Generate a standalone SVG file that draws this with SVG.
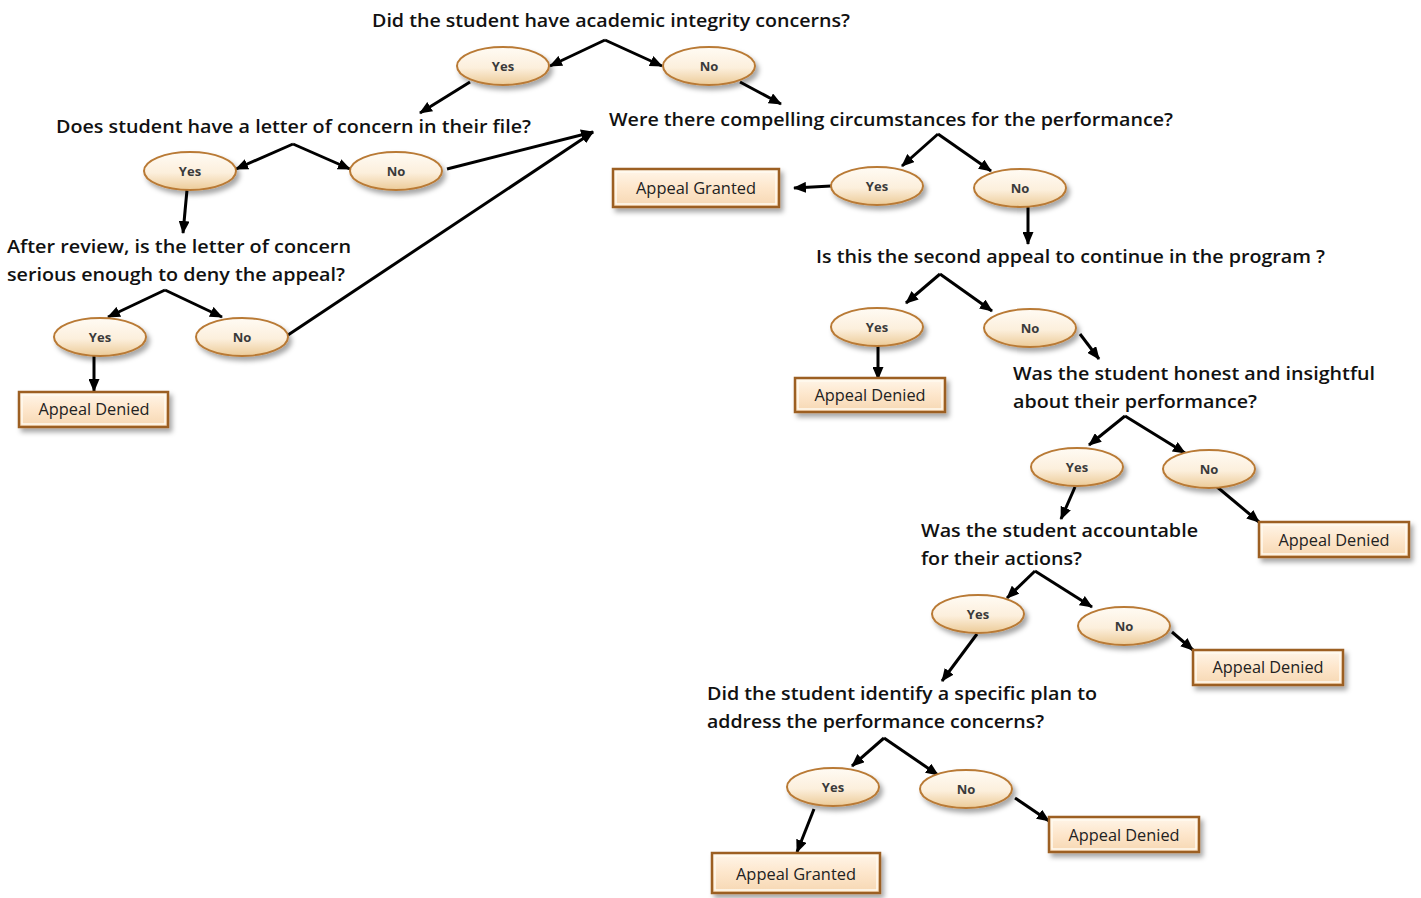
<svg xmlns="http://www.w3.org/2000/svg" width="1421" height="898" viewBox="0 0 1421 898">
<defs>
<linearGradient id="eg" x1="0" y1="0" x2="0" y2="1">
<stop offset="0" stop-color="#fffbf4"/><stop offset="0.55" stop-color="#fcefdc"/><stop offset="1" stop-color="#eccb98"/>
</linearGradient>
<linearGradient id="bg" x1="0" y1="0" x2="0" y2="1">
<stop offset="0" stop-color="#fff6ea"/><stop offset="0.5" stop-color="#fde6cb"/><stop offset="1" stop-color="#f6d7b2"/>
</linearGradient>
<filter id="sh" x="-20%" y="-30%" width="140%" height="170%">
<feDropShadow dx="3" dy="4" stdDeviation="2.5" flood-color="#000" flood-opacity="0.35"/>
</filter>
<marker id="ar" viewBox="0 0 13 11" refX="12" refY="5.5" markerWidth="13" markerHeight="11" markerUnits="userSpaceOnUse" orient="auto">
<path d="M0,0 L13,5.5 L0,11 z" fill="#000"/>
</marker>
</defs>
<style>
.q{font-family:"Open Sans","Liberation Sans",sans-serif;font-size:18px;font-weight:600;fill:#111}
.e ellipse{fill:url(#eg);stroke:#b97a35;stroke-width:2;filter:url(#sh)}
.e text{font-family:"Open Sans","Liberation Sans",sans-serif;font-size:13px;font-weight:700;fill:#3a3a3a;text-anchor:middle}
.b rect.o{fill:url(#bg);stroke:#9c5f22;stroke-width:2.5;filter:url(#sh)}
.b rect.i{fill:none;stroke:#fffaf0;stroke-width:1.5}
.b text{font-family:"Open Sans","Liberation Sans",sans-serif;font-size:16px;fill:#222;text-anchor:middle}
.c path{fill:none;stroke:#000;stroke-width:3}
</style>
<rect width="1421" height="898" fill="#fff"/>

<g id="connectors" class="c">
<path d="M605,40 L550,66" marker-end="url(#ar)"/>
<path d="M605,40 L662,66" marker-end="url(#ar)"/>
<path d="M470,82 L420,113" marker-end="url(#ar)"/>
<path d="M740,82 L781,104" marker-end="url(#ar)"/>
<path d="M293,144 L236,169" marker-end="url(#ar)"/>
<path d="M293,144 L350,169" marker-end="url(#ar)"/>
<path d="M447,169 L593,132" marker-end="url(#ar)"/>
<path d="M187,190 L183,233" marker-end="url(#ar)"/>
<path d="M165,290 L108,317" marker-end="url(#ar)"/>
<path d="M165,290 L222,317" marker-end="url(#ar)"/>
<path d="M288,335 L593,132" marker-end="url(#ar)"/>
<path d="M94,356 L94,391" marker-end="url(#ar)"/>
<path d="M938,134 L902,166" marker-end="url(#ar)"/>
<path d="M938,134 L991,171" marker-end="url(#ar)"/>
<path d="M831,186 L794,188" marker-end="url(#ar)"/>
<path d="M1028,207 L1028,244" marker-end="url(#ar)"/>
<path d="M940,274 L906,303" marker-end="url(#ar)"/>
<path d="M940,274 L992,311" marker-end="url(#ar)"/>
<path d="M878,346 L878,379" marker-end="url(#ar)"/>
<path d="M1080,334 L1099,359" marker-end="url(#ar)"/>
<path d="M1125,416 L1089,445" marker-end="url(#ar)"/>
<path d="M1125,416 L1185,453" marker-end="url(#ar)"/>
<path d="M1075,487 L1061,519" marker-end="url(#ar)"/>
<path d="M1216,486 L1259,522" marker-end="url(#ar)"/>
<path d="M1035,571 L1007,598" marker-end="url(#ar)"/>
<path d="M1035,571 L1092,607" marker-end="url(#ar)"/>
<path d="M977,634 L942,681" marker-end="url(#ar)"/>
<path d="M1172,632 L1193,650" marker-end="url(#ar)"/>
<path d="M884,738 L852,766" marker-end="url(#ar)"/>
<path d="M884,738 L938,775" marker-end="url(#ar)"/>
<path d="M814,809 L797,852" marker-end="url(#ar)"/>
<path d="M1015,798 L1049,821" marker-end="url(#ar)"/>
</g>

<g id="q1"><text class="q" x="372" y="27" textLength="478" lengthAdjust="spacingAndGlyphs">Did the student have academic integrity concerns?</text></g>
<g id="q2"><text class="q" x="56" y="133" textLength="475" lengthAdjust="spacingAndGlyphs">Does student have a letter of concern in their file?</text></g>
<g id="q3"><text class="q" x="609" y="126" textLength="564" lengthAdjust="spacingAndGlyphs">Were there compelling circumstances for the performance?</text></g>
<g id="q4"><text class="q" x="7" y="253" textLength="344" lengthAdjust="spacingAndGlyphs">After review, is the letter of concern</text><text class="q" x="7" y="281" textLength="338" lengthAdjust="spacingAndGlyphs">serious enough to deny the appeal?</text></g>
<g id="q5"><text class="q" x="816" y="263" textLength="509" lengthAdjust="spacingAndGlyphs">Is this the second appeal to continue in the program ?</text></g>
<g id="q6"><text class="q" x="1013" y="380" textLength="362" lengthAdjust="spacingAndGlyphs">Was the student honest and insightful</text><text class="q" x="1013" y="408" textLength="244" lengthAdjust="spacingAndGlyphs">about their performance?</text></g>
<g id="q7"><text class="q" x="921" y="537" textLength="277" lengthAdjust="spacingAndGlyphs">Was the student accountable</text><text class="q" x="921" y="565" textLength="161" lengthAdjust="spacingAndGlyphs">for their actions?</text></g>
<g id="q8"><text class="q" x="707" y="700" textLength="390" lengthAdjust="spacingAndGlyphs">Did the student identify a specific plan to</text><text class="q" x="707" y="728" textLength="337" lengthAdjust="spacingAndGlyphs">address the performance concerns?</text></g>

<g id="yes1" class="e"><ellipse cx="503" cy="66" rx="46" ry="19"/><text x="503" y="71">Yes</text></g>
<g id="no1" class="e"><ellipse cx="709" cy="66" rx="46" ry="19"/><text x="709" y="71">No</text></g>
<g id="yes2" class="e"><ellipse cx="190" cy="171" rx="46" ry="19"/><text x="190" y="176">Yes</text></g>
<g id="no2" class="e"><ellipse cx="396" cy="171" rx="46" ry="19"/><text x="396" y="176">No</text></g>
<g id="yes3" class="e"><ellipse cx="100" cy="337" rx="46" ry="19"/><text x="100" y="342">Yes</text></g>
<g id="no3" class="e"><ellipse cx="242" cy="337" rx="46" ry="19"/><text x="242" y="342">No</text></g>
<g id="yes4" class="e"><ellipse cx="877" cy="186" rx="46" ry="19"/><text x="877" y="191">Yes</text></g>
<g id="no4" class="e"><ellipse cx="1020" cy="188" rx="46" ry="19"/><text x="1020" y="193">No</text></g>
<g id="yes5" class="e"><ellipse cx="877" cy="327" rx="46" ry="19"/><text x="877" y="332">Yes</text></g>
<g id="no5" class="e"><ellipse cx="1030" cy="328" rx="46" ry="19"/><text x="1030" y="333">No</text></g>
<g id="yes6" class="e"><ellipse cx="1077" cy="467" rx="46" ry="19"/><text x="1077" y="472">Yes</text></g>
<g id="no6" class="e"><ellipse cx="1209" cy="469" rx="46" ry="19"/><text x="1209" y="474">No</text></g>
<g id="yes7" class="e"><ellipse cx="978" cy="614" rx="46" ry="19"/><text x="978" y="619">Yes</text></g>
<g id="no7" class="e"><ellipse cx="1124" cy="626" rx="46" ry="19"/><text x="1124" y="631">No</text></g>
<g id="yes8" class="e"><ellipse cx="833" cy="787" rx="46" ry="19"/><text x="833" y="792">Yes</text></g>
<g id="no8" class="e"><ellipse cx="966" cy="789" rx="46" ry="19"/><text x="966" y="794">No</text></g>

<g id="granted1" class="b"><rect class="o" x="613" y="169" width="166" height="38"/><rect class="i" x="616" y="172" width="160" height="32"/><text x="696" y="194" textLength="120" lengthAdjust="spacingAndGlyphs">Appeal Granted</text></g>
<g id="denied1" class="b"><rect class="o" x="19" y="392" width="149" height="35"/><rect class="i" x="22" y="395" width="143" height="29"/><text x="94" y="415" textLength="111" lengthAdjust="spacingAndGlyphs">Appeal Denied</text></g>
<g id="denied2" class="b"><rect class="o" x="795" y="378" width="150" height="34"/><rect class="i" x="798" y="381" width="144" height="28"/><text x="870" y="401" textLength="111" lengthAdjust="spacingAndGlyphs">Appeal Denied</text></g>
<g id="denied3" class="b"><rect class="o" x="1259" y="522" width="150" height="35"/><rect class="i" x="1262" y="525" width="144" height="29"/><text x="1334" y="546" textLength="111" lengthAdjust="spacingAndGlyphs">Appeal Denied</text></g>
<g id="denied4" class="b"><rect class="o" x="1193" y="650" width="150" height="35"/><rect class="i" x="1196" y="653" width="144" height="29"/><text x="1268" y="673" textLength="111" lengthAdjust="spacingAndGlyphs">Appeal Denied</text></g>
<g id="denied5" class="b"><rect class="o" x="1049" y="817" width="150" height="35"/><rect class="i" x="1052" y="820" width="144" height="29"/><text x="1124" y="841" textLength="111" lengthAdjust="spacingAndGlyphs">Appeal Denied</text></g>
<g id="granted2" class="b"><rect class="o" x="712" y="853" width="168" height="40"/><rect class="i" x="715" y="856" width="162" height="34"/><text x="796" y="880" textLength="120" lengthAdjust="spacingAndGlyphs">Appeal Granted</text></g>
</svg>
